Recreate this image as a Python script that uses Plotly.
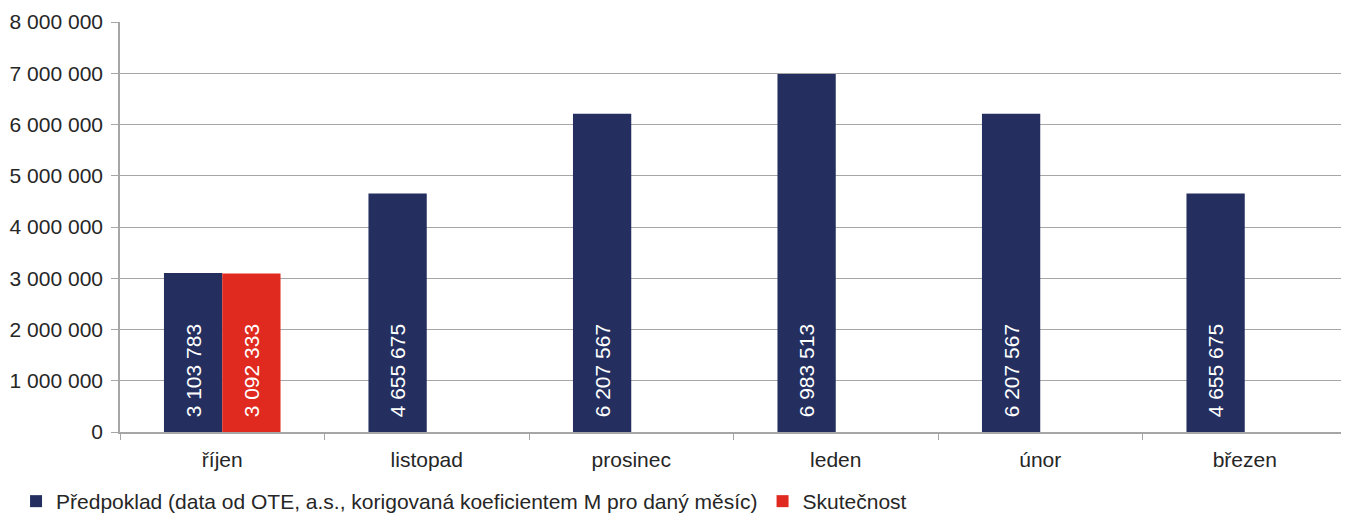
import plotly.graph_objects as go

months = ['říjen', 'listopad', 'prosinec', 'leden', 'únor', 'březen']
predpoklad = [3103783, 4655675, 6207567, 6983513, 6207567, 4655675]
skutecnost = [3092333, None, None, None, None, None]

NAVY = '#242F5F'
RED = '#E02A20'
GRID = '#A6A6A6'
TEXT = '#262626'
FONT = 'Liberation Sans, Arial, sans-serif'
FS = 21

fig = go.Figure()

# leading no-break spaces lift the label off the bar base like the original
fig.add_trace(go.Bar(
    x=months, y=predpoklad,
    name='Předpoklad (data od OTE, a.s., korigovaná koeficientem M pro daný měsíc)',
    marker=dict(color=NAVY, line=dict(width=0)),
    texttemplate='\u00a0\u00a0%{y:,.0f}', textposition='inside', insidetextanchor='start',
    textangle=-90, textfont=dict(color='white', size=FS, family=FONT),
))

fig.add_trace(go.Bar(
    x=months, y=skutecnost,
    name='Skutečnost',
    marker=dict(color=RED, line=dict(width=0)),
    texttemplate='\u00a0\u00a0%{y:,.0f}', textposition='inside', insidetextanchor='start',
    textangle=-90, textfont=dict(color='white', size=FS, family=FONT),
))

# page body adds an 8px offset, so the figure is sized to fit inside it
fig.update_layout(
    width=1341, height=514,
    margin=dict(l=112, r=2, t=14, b=90),
    paper_bgcolor='white', plot_bgcolor='white',
    font=dict(family=FONT, size=FS, color=TEXT),
    separators=', ',
    barmode='group', bargap=0.43, bargroupgap=0,
    showlegend=True,
    legend=dict(orientation='h', x=0.006, xref='container', y=-0.018, yref='container',
                xanchor='left', yanchor='bottom', font=dict(size=FS, color=TEXT),
                itemwidth=30, tracegroupgap=0),
    xaxis=dict(showline=True, linecolor=GRID, linewidth=1.5, ticks='outside',
               tickson='boundaries', ticklen=6, tickcolor=GRID, showgrid=False,
               ticklabelstandoff=8, automargin=False, tickfont=dict(size=FS, color=TEXT)),
    yaxis=dict(range=[0, 8000000], dtick=1000000, tickformat=',d',
               showline=True, linecolor=GRID, linewidth=1.5, ticks='outside',
               ticklen=7, tickcolor=GRID, showgrid=True, gridcolor=GRID, gridwidth=1,
               ticklabelstandoff=4, automargin=False,
               zeroline=False, tickfont=dict(size=FS, color=TEXT)),
)

fig.write_html("out.html")
